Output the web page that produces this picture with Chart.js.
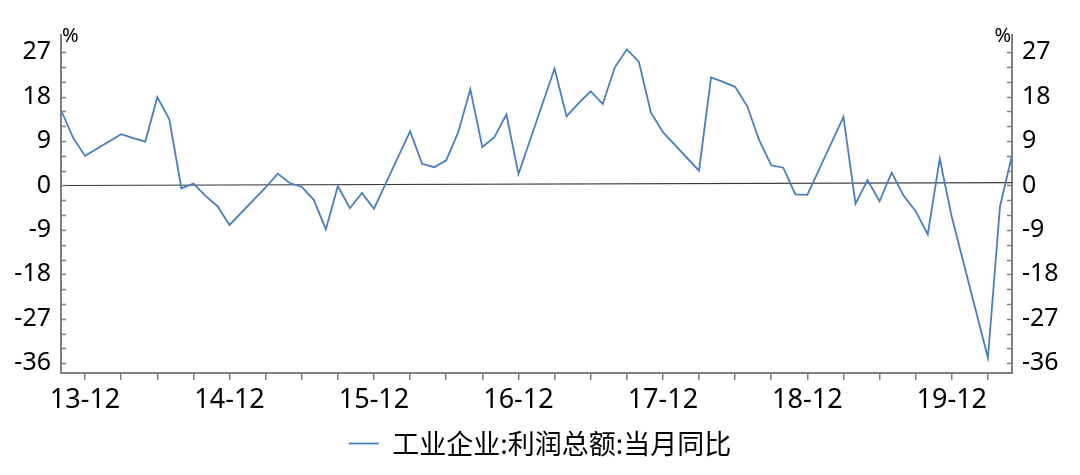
<!DOCTYPE html>
<html>
<head>
<meta charset="utf-8">
<script src="https://cdn.jsdelivr.net/npm/chart.js@4"></script>
<style>
  html, body { margin: 0; padding: 0; background: #fff; }
  #wrap { width: 1080px; height: 475px; }
</style>
</head>
<body>
<div id="wrap"><canvas id="chart" width="1080" height="475"></canvas></div>
<script>
// months, 2013-10 .. 2020-05
const MONTHS = [
  "13-10", "13-11", "13-12",
  "14-01", "14-02", "14-03", "14-04", "14-05", "14-06", "14-07", "14-08", "14-09", "14-10", "14-11", "14-12",
  "15-01", "15-02", "15-03", "15-04", "15-05", "15-06", "15-07", "15-08", "15-09", "15-10", "15-11", "15-12",
  "16-01", "16-02", "16-03", "16-04", "16-05", "16-06", "16-07", "16-08", "16-09", "16-10", "16-11", "16-12",
  "17-01", "17-02", "17-03", "17-04", "17-05", "17-06", "17-07", "17-08", "17-09", "17-10", "17-11", "17-12",
  "18-01", "18-02", "18-03", "18-04", "18-05", "18-06", "18-07", "18-08", "18-09", "18-10", "18-11", "18-12",
  "19-01", "19-02", "19-03", "19-04", "19-05", "19-06", "19-07", "19-08", "19-09", "19-10", "19-11", "19-12",
  "20-01", "20-02", "20-03", "20-04", "20-05",
];

// 工业企业:利润总额:当月同比 (%), Jan/Feb not reported
const PROFIT_YOY = [
  15.3, 9.7, 6.0,
  null, null, 10.4, 9.6, 8.9, 17.9, 13.4, -0.6, 0.4, -2.1, -4.2, -8.0,
  null, null, -0.4, 2.4, 0.5, -0.3, -2.9, -8.9, -0.1, -4.6, -1.5, -4.7,
  null, null, 11.0, 4.4, 3.7, 5.1, 10.8, 19.5, 7.8, 9.8, 14.4, 2.3,
  null, null, 23.7, 14.0, 16.7, 19.1, 16.5, 23.9, 27.6, 25.1, 14.8, 10.8,
  null, null, 3.0, 21.9, 21.0, 20.0, 16.1, 9.2, 4.1, 3.6, -1.8, -1.9,
  null, null, 13.9, -3.7, 1.1, -3.2, 2.6, -2.1, -5.2, -9.9, 5.4, -6.4,
  null, null, -34.9, -4.3, 6.1,
];

// the thin reference line near zero (drawn end to end)
const ZERO_LINE_ENDS = [0.0, 0.6];

const SERIES_NAME = "工业企业:利润总额:当月同比";
const Y_MIN = -38;
const Y_MAX = 30.5;
const Y_LABEL_STEP = 9;
const Y_MINOR_STEP = 3;

const AXIS_GRAY = "#7f7f7f";
const LINE_BLUE = "#4a7ebf";

const zeroLine = MONTHS.map((m, i) =>
  i === 0 ? ZERO_LINE_ENDS[0] : i === MONTHS.length - 1 ? ZERO_LINE_ENDS[1] : null
);

// inward minor/major ticks on both y axes and the "%" unit labels
const axisDecor = {
  id: "axisDecor",
  afterDraw(chart) {
    const ctx = chart.ctx;
    const yl = chart.scales.y;
    const yr = chart.scales.y2;
    ctx.save();
    ctx.strokeStyle = AXIS_GRAY;
    ctx.lineWidth = 1.5;
    ctx.beginPath();
    for (let v = -36; v <= 27; v += Y_MINOR_STEP) {
      const py = Math.round(yl.getPixelForValue(v)) + 0.5;
      ctx.moveTo(yl.right, py);
      ctx.lineTo(yl.right + 5, py);
      ctx.moveTo(yr.left - 5, py);
      ctx.lineTo(yr.left, py);
    }
    ctx.stroke();

    ctx.fillStyle = "#000";
    ctx.font = "20px 'Noto Sans'";
    ctx.textBaseline = "alphabetic";
    ctx.textAlign = "left";
    ctx.fillText("%", yl.right + 1, chart.chartArea.top + 7);
    ctx.textAlign = "right";
    ctx.fillText("%", yr.left - 1, chart.chartArea.top + 7);
    ctx.restore();
  },
};

function isQuarterEnd(label) {
  const m = Number(label.slice(3));
  return m % 3 === 0;
}

function initializeChart() {
  const ctx = document.getElementById("chart");

  new Chart(ctx, {
    type: "line",
    data: {
      labels: MONTHS,
      datasets: [
        {
          label: SERIES_NAME,
          data: PROFIT_YOY,
          borderColor: LINE_BLUE,
          backgroundColor: LINE_BLUE,
          borderWidth: 1.8,
          pointRadius: 0,
          tension: 0,
          spanGaps: true,
          yAxisID: "y",
          order: 1,
        },
        {
          label: "zero",
          data: zeroLine,
          borderColor: "#3a3a3a",
          borderWidth: 1.2,
          pointRadius: 0,
          spanGaps: true,
          yAxisID: "y",
          order: 2,
        },
      ],
    },
    options: {
      responsive: false,
      devicePixelRatio: 1,
      animation: false,
      layout: { padding: { top: 35, bottom: 8, left: 0, right: 0 } },
      scales: {
        x: {
          type: "category",
          offset: false,
          grid: {
            display: true,
            drawOnChartArea: false,
            drawTicks: true,
            tickLength: 7,
            lineWidth: 1.5,
            color: (c) => (isQuarterEnd(MONTHS[c.index] || "00-01") ? AXIS_GRAY : "rgba(0,0,0,0)"),
          },
          border: { display: true, color: AXIS_GRAY, width: 2 },
          ticks: {
            autoSkip: false,
            maxRotation: 0,
            minRotation: 0,
            padding: 4,
            color: "#000",
            font: { family: "'Noto Sans'", size: 27 },
            callback: (val, i) => (MONTHS[i].endsWith("-12") ? MONTHS[i] : ""),
          },
          afterFit: (s) => { s.height = 47; },
        },
        y: {
          position: "left",
          min: Y_MIN,
          max: Y_MAX,
          grid: { display: false, drawTicks: false },
          border: { display: true, color: AXIS_GRAY, width: 2 },
          ticks: {
            stepSize: Y_LABEL_STEP,
            includeBounds: false,
            padding: 10,
            color: "#000",
            font: { family: "'Noto Sans'", size: 25 },
          },
          afterFit: (s) => { s.width = 61; },
        },
        y2: {
          position: "right",
          min: Y_MIN,
          max: Y_MAX,
          grid: { display: false, drawTicks: false },
          border: { display: true, color: AXIS_GRAY, width: 2 },
          ticks: {
            stepSize: Y_LABEL_STEP,
            includeBounds: false,
            padding: 10,
            color: "#000",
            font: { family: "'Noto Sans'", size: 25 },
          },
          afterFit: (s) => { s.width = 68; },
        },
      },
      plugins: {
        tooltip: { enabled: false },
        legend: {
          position: "bottom",
          labels: {
            filter: (item) => item.datasetIndex === 0,
            usePointStyle: true,
            pointStyle: "line",
            pointStyleWidth: 30,
            padding: 10,
            color: "#000",
            font: { family: "'Noto Sans CJK SC'", size: 27 },
          },
        },
      },
    },
    plugins: [axisDecor],
  });
}

initializeChart();
</script>
</body>
</html>
